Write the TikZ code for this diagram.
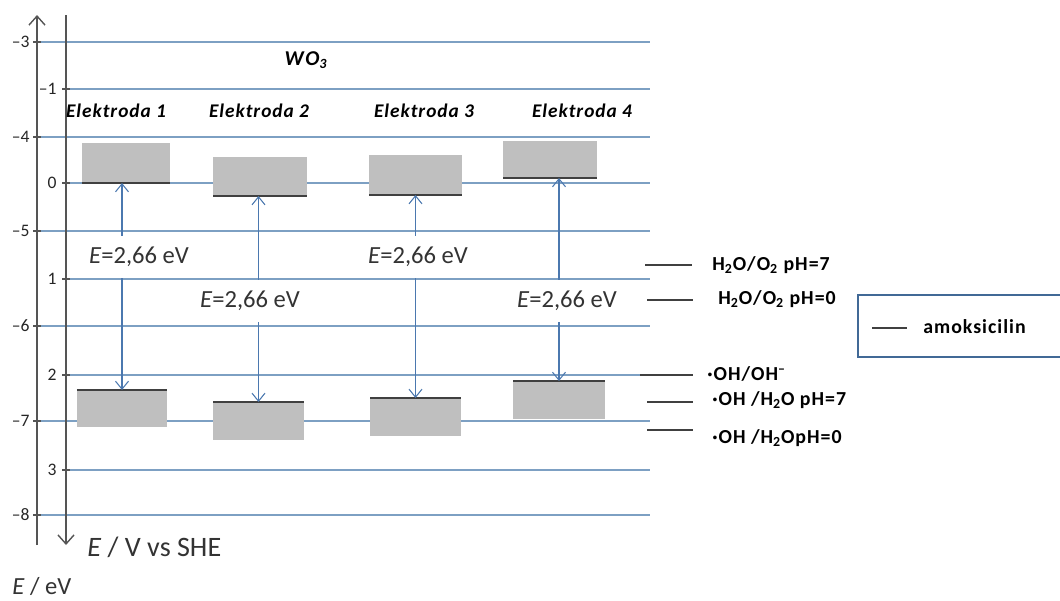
\documentclass[tikz,border=0pt]{standalone}
\usepackage{fontspec}
\setmainfont{Carlito}
\usetikzlibrary{arrows.meta,positioning}
\definecolor{gridblue}{RGB}{125,160,195}
\definecolor{arrblue}{RGB}{75,120,175}
\definecolor{bandgray}{RGB}{191,191,191}
\definecolor{axisgray}{RGB}{85,85,85}
\definecolor{boxblue}{RGB}{65,105,150}

\begin{document}
\begin{tikzpicture}[x=0.2mm, y=-0.2mm,
  gridline/.style={draw=gridblue, line width=0.7pt},
  tickmark/.style={draw=axisgray, line width=0.7pt},
  axis/.style={draw=axisgray, line width=0.8pt},
  axtip/.style={-{Straight Barb[length=1.8mm,width=3.2mm]}},
  ticklab/.style={inner sep=0pt, anchor=east, font=\fontsize{10}{11}\selectfont, text=black!85},
  band/.style={fill=bandgray, inner sep=0pt, outer sep=0pt},
  edge/.style={draw=black!75, line width=1.1pt},
  arr/.style={{Straight Barb[length=1.6mm,width=2.6mm]}-{Straight Barb[length=1.6mm,width=2.6mm]}, draw=arrblue, line width=0.6pt},
  gap/.style={fill=white, inner sep=1pt, minimum height=8.4mm, font=\fontsize{14}{16}\selectfont, text=black!80},
  head/.style={font=\fontsize{11}{13}\selectfont\bfseries\itshape\addfontfeature{LetterSpace=5}},
  lvl/.style={anchor=west, inner sep=0pt, font=\fontsize{11.3}{13}\selectfont\bfseries\addfontfeature{LetterSpace=5}},
  lvlline/.style={draw=black!75, line width=0.7pt},
  axlab/.style={anchor=west, inner sep=0pt, text=black!80}]
\useasboundingbox (0,0) rectangle (1060,601);
% energy scale (eV) and potential scale (V vs SHE)
\foreach \y/\v [count=\i] in {42/--3, 137/--4, 231/--5, 326/--6, 421/--7, 515/--8} {
  \draw[gridline] (41,\y) -- (650,\y);
  \draw[tickmark] (33,\y) -- (41,\y);
  \node[ticklab] (ev\i) at (30,\y) {\v};
}
\foreach \y/\v [count=\i] in {89/--1, 183/0, 279/1, 375/2, 470/3} {
  \draw[gridline] (70,\y) -- (650,\y);
  \draw[tickmark] (62,\y) -- (70,\y);
  \node[ticklab] (she\i) at (57,\y) {\v};
}
\coordinate (evbot) at (37,545);
\coordinate (evtop) at (37,15);
\coordinate (shetop) at (66,15);
\coordinate (shebot) at (66,545);
\draw[axis, axtip] (evbot) -- (evtop);
\draw[axis, axtip] (shetop) -- (shebot);

\node[head, font=\fontsize{12}{14}\selectfont\bfseries\itshape\addfontfeature{LetterSpace=8}] (wo) at (306,60) {WO\textsubscript{3}};
\node[head] (el1) at (116,111) {Elektroda 1};
\node[head] (el2) at (259,111) {Elektroda 2};
\node[head] (el3) at (424,111) {Elektroda 3};
\node[head] (el4) at (582,111) {Elektroda 4};

% conduction bands
\node[band, minimum width=1.76cm, minimum height=0.80cm] (cb1) at (126,163) {};
\node[band, minimum width=1.88cm, minimum height=0.78cm] (cb2) at (260,176.5) {};
\node[band, minimum width=1.86cm, minimum height=0.80cm] (cb3) at (415.5,175) {};
\node[band, minimum width=1.88cm, minimum height=0.74cm] (cb4) at (550,159.5) {};
% valence bands
\node[band, minimum width=1.80cm, minimum height=0.74cm] (vb1) at (122,408.5) {};
\node[band, minimum width=1.82cm, minimum height=0.76cm] (vb2) at (258.5,421) {};
\node[band, minimum width=1.82cm, minimum height=0.76cm] (vb3) at (415.5,417) {};
\node[band, minimum width=1.84cm, minimum height=0.76cm] (vb4) at (559,400) {};
\foreach \i in {1,...,4} {
  \draw[edge] (cb\i.south west) -- (cb\i.south east);
  \draw[edge] (vb\i.north west) -- (vb\i.north east);
  \draw[arr] (cb\i.south -| vb\i.north) -- (vb\i.north);
}
\node[gap] (eg1) at (139,257) {\textit{E}=2,66 eV};
\node[gap] (eg2) at (250,301) {\textit{E}=2,66 eV};
\node[gap] (eg3) at (418,257) {\textit{E}=2,66 eV};
\node[gap] (eg4) at (567,301) {\textit{E}=2,66 eV};

% redox levels
\draw[lvlline] (645,265) -- (692,265);
\node[lvl] (o2ph7) at (712,265) {H\textsubscript{2}O/O\textsubscript{2} pH=7};
\draw[lvlline] (647,300) -- (693,300);
\node[lvl] (o2ph0) at (718,299) {H\textsubscript{2}O/O\textsubscript{2} pH=0};
\draw[lvlline] (640,375) -- (693,375);
\node[lvl] (ohoh) at (707,374) {·OH/OH\textsuperscript{--}};
\draw[lvlline] (647,402) -- (693,402);
\node[lvl] (ohph7) at (712,400) {·OH /H\textsubscript{2}O pH=7};
\draw[lvlline] (647,430) -- (693,430);
\node[lvl] (ohph0) at (712,438) {·OH /H\textsubscript{2}OpH=0};

\node[draw=boxblue, line width=1.7pt, minimum width=4.24cm, minimum height=1.24cm] (amox) at (964,326) {};
\draw[lvlline] (872,328) -- (907,328);
\node[lvl] (amoxlab) at (923,327) {amoksicilin};

\node[axlab, font=\fontsize{16}{18}\selectfont] (shelab) at (87,547) {\textit{E} / V vs SHE};
\node[axlab, font=\fontsize{14}{16}\selectfont] (evlab) at (12,586) {\textit{E} / eV};
\end{tikzpicture}
\end{document}
